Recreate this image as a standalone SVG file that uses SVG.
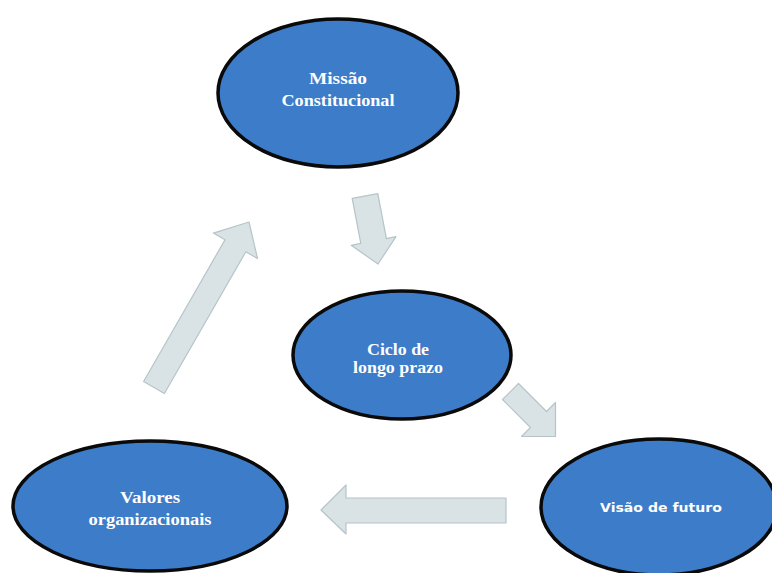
<svg xmlns="http://www.w3.org/2000/svg" width="772" height="573" viewBox="0 0 772 573">
<style>
.node{fill:#3c7cc8;stroke:#0a0a0a;stroke-width:3.5}
.lbl{fill:#ffffff;font-family:"Liberation Serif","Times New Roman",serif;font-weight:bold;font-size:16px;text-anchor:middle}
.lbl2{fill:#ffffff;font-family:"DejaVu Sans","Liberation Sans",sans-serif;font-weight:bold;font-size:13px;text-anchor:middle}
.arr{fill:#d9e3e6;stroke:#b6c4c8;stroke-width:1.2;stroke-linejoin:round}
</style>
<rect width="772" height="573" fill="#ffffff"/>
<g id="connectors">
<polygon class="arr" points="352.2,198.4 377.8,193.6 386.4,238.6 396,236.7 378,264 351.2,245.3 360.8,243.4"/>
<polygon class="arr" points="518.5,383.5 546.5,411.5 555.5,402.5 555.5,436.5 521.5,436.5 530.5,427.5 502.5,399.5"/>
<polygon class="arr" points="506,498 506,523 346,523 346,534 321,510 346,485 346,498"/>
<polygon class="arr" points="143.6,381.5 164.4,393.5 245.8,251.8 257.5,258.5 249,222 213.3,233.1 225,239.8"/>
</g>
<g id="missao">
<ellipse class="node" cx="338" cy="93" rx="120" ry="74"/>
<text class="lbl" x="338" y="84" textLength="58" lengthAdjust="spacingAndGlyphs">Missão</text>
<text class="lbl" x="338" y="106" textLength="113" lengthAdjust="spacingAndGlyphs">Constitucional</text>
</g>
<g id="ciclo">
<ellipse class="node" cx="402" cy="355" rx="109" ry="64"/>
<text class="lbl" x="398" y="355" textLength="62" lengthAdjust="spacingAndGlyphs">Ciclo de</text>
<text class="lbl" x="398" y="373" textLength="90" lengthAdjust="spacingAndGlyphs">longo prazo</text>
</g>
<g id="valores">
<ellipse class="node" cx="150" cy="506" rx="137" ry="65"/>
<text class="lbl" x="150" y="503" textLength="60" lengthAdjust="spacingAndGlyphs">Valores</text>
<text class="lbl" x="150" y="525" textLength="123" lengthAdjust="spacingAndGlyphs">organizacionais</text>
</g>
<g id="visao">
<ellipse class="node" cx="659" cy="507" rx="118" ry="68"/>
<text class="lbl2" x="661" y="512" textLength="122" lengthAdjust="spacingAndGlyphs">Visão de futuro</text>
</g>
</svg>
